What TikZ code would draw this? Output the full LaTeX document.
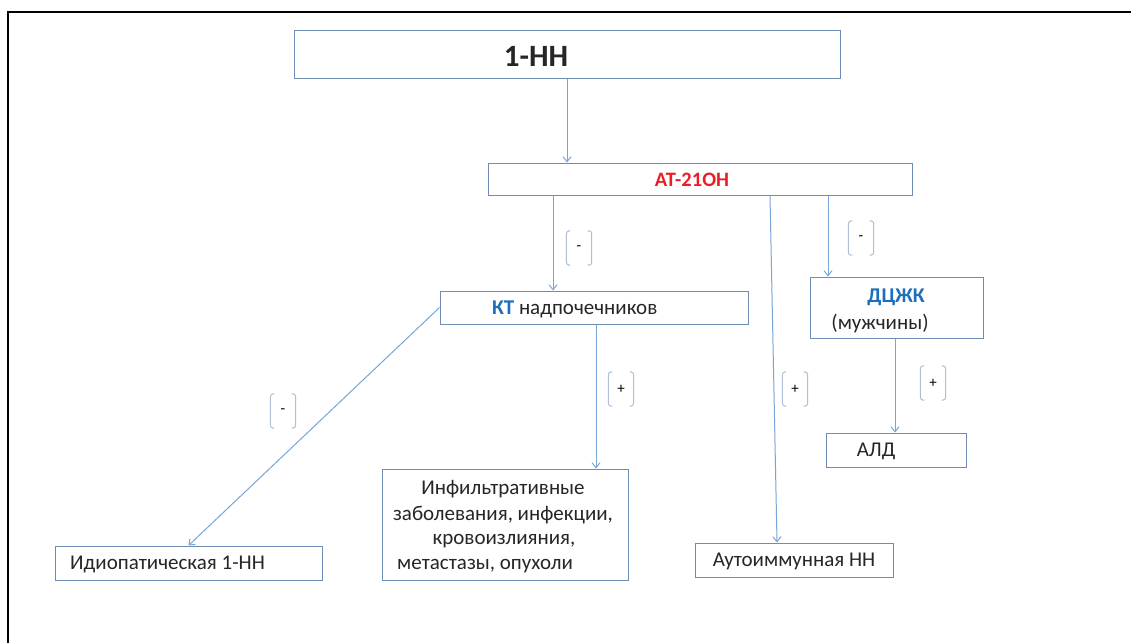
\documentclass[tikz,border=0pt]{standalone}
\usepackage{fontspec}
\setmainfont{Carlito}
\usetikzlibrary{arrows.meta}
\definecolor{boxc}{RGB}{110,140,180}
\definecolor{arrc}{RGB}{120,165,215}
\definecolor{brkc}{RGB}{175,190,210}
\definecolor{redt}{RGB}{235,30,40}
\definecolor{bluet}{RGB}{30,110,190}
\newcommand\signbox[4]{%
  \node[signlbl] (#1) at (#2,#3) {#4};
  \draw[brkline] ([xshift=4pt]#1.north west) -- (#1.north west) -- (#1.south west) -- ([xshift=4pt]#1.south west);
  \draw[brkline] ([xshift=-4pt]#1.north east) -- (#1.north east) -- (#1.south east) -- ([xshift=-4pt]#1.south east);
}
\begin{document}
\begin{tikzpicture}[x=1pt,y=-1pt,
  box/.style={draw=boxc, line width=1pt, rectangle, inner sep=0pt, fill=white},
  txt/.style={inner sep=0pt, font=\fontsize{21}{24}\selectfont, text=black!85},
  arr/.style={draw=arrc, line width=1pt, -{Straight Barb[length=5pt,width=8pt]}},
  signlbl/.style={minimum width=25pt, minimum height=34pt, inner sep=0pt, font=\fontsize{15}{17}\selectfont},
  brkline/.style={draw=brkc, line width=1pt, rounded corners=3pt}
]
\useasboundingbox (0,0) rectangle (1131,643);
\fill[white] (0,0) rectangle (1131,643);
% frame
\draw[line width=2.5pt, black] (8,643) -- (8,12) -- (1131,12);

% boxes
\node[box, minimum width=546pt, minimum height=48pt] (top) at (567,54) {};
\node[txt, font=\fontsize{31}{34}\selectfont\bfseries] (toptxt) at (536,56) {1-НН};

\node[box, minimum width=424pt, minimum height=32pt] (at) at (700,179) {};
\node[txt, font=\fontsize{20.5}{24}\selectfont\bfseries, text=redt] (attxt) at (692,180) {АТ-21ОН};

\node[box, minimum width=308pt, minimum height=33pt] (kt) at (594,307.5) {};
\node[txt, anchor=west] (kttxt) at (492,309) {\textcolor{bluet}{\bfseries КТ} надпочечников};

\node[box, minimum width=173pt, minimum height=61pt] (dc) at (896.5,307.5) {};
\node[txt, font=\fontsize{21}{24}\selectfont\bfseries, text=bluet] (dctxt) at (896,297) {ДЦЖК};
\node[txt] (dctxt2) at (880,324) {(мужчины)};

\node[box, minimum width=140pt, minimum height=34pt] (ald) at (896,450) {};
\node[txt] (aldtxt) at (876,451) {АЛД};

\node[box, minimum width=267pt, minimum height=34pt] (idio) at (188.5,563) {};
\node[txt, anchor=west] (idiotxt) at (70,564) {Идиопатическая 1-НН};

\node[box, minimum width=246pt, minimum height=111pt] (inf) at (505,524.5) {};
\node[txt] (inf1) at (503,489) {Инфильтративные};
\node[txt] (inf2) at (503,515) {заболевания, инфекции,};
\node[txt] (inf3) at (504,541) {кровоизлияния,};
\node[txt, anchor=west] (inf4) at (397,566) {метастазы, опухоли};

\node[box, minimum width=198pt, minimum height=34pt] (auto) at (794,560) {};
\node[txt] (autotxt) at (794,561) {Аутоиммунная НН};

% connectors
\draw[arr] (567,0 |- top.south) -- (567,0 |- at.north);
\draw[arr] (553,0 |- at.south) -- (553,0 |- kt.north);
\draw[arr] (828,0 |- at.south) -- (828,0 |- dc.north);
\draw[arr] (770,0 |- at.south) -- (777,0 |- auto.north);
\draw[arr] (895,0 |- dc.south) -- (895,0 |- ald.north);
\draw[arr] (kt.west) -- (idio.north);
\draw[arr] (596,0 |- kt.south) -- (596,0 |- inf.north);

% signs
\signbox{s1}{579}{248}{-}
\signbox{s2}{861}{238}{-}
\signbox{s3}{283}{411}{-}
\signbox{s4}{621}{389}{+}
\signbox{s5}{795}{389}{+}
\signbox{s6}{933}{383}{+}
\end{tikzpicture}
\end{document}
